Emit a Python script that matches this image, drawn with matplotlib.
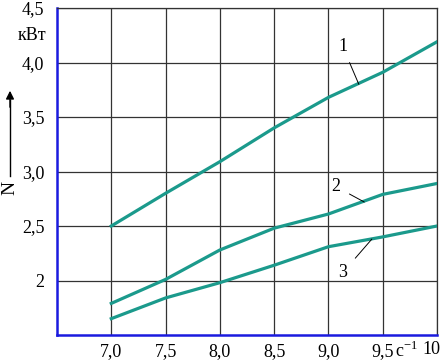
import matplotlib.pyplot as plt

plt.rcParams['font.family'] = ['Liberation Serif', 'DejaVu Serif']

# частота вращения, c^-1
n = [7.0, 7.5, 8.0, 8.5, 9.0, 9.5, 10.0]
# мощность, кВт
N1 = [2.50, 2.80, 3.09, 3.40, 3.68, 3.91, 4.19]
N2 = [1.79, 2.01, 2.28, 2.48, 2.61, 2.79, 2.89]
N3 = [1.65, 1.84, 1.98, 2.14, 2.31, 2.40, 2.50]

xticks = [7.0, 7.5, 8.0, 8.5, 9.0, 9.5, 10.0]
xlabels = ['7,0', '7,5', '8,0', '8,5', '9,0', '9,5', '']
yticks = [2.0, 2.5, 3.0, 3.5, 4.0, 4.5]
ylabels = ['2', '2,5', '3,0', '3,5', '4,0', '4,5']

teal = '#1b9a8c'
fs = 13

fig = plt.figure(figsize=(4.41, 3.61), dpi=100)
ax = fig.add_axes([57/441, 26/361, 380/441, 327/361])

ax.set_xlim(6.5, 10.0)
ax.set_ylim(1.5, 4.5)

for x in xticks:
    ax.axvline(x, color='#333333', lw=0.9, zorder=1)
for y in yticks:
    ax.axhline(y, color='#333333', lw=0.9, zorder=1)

ax.plot(n, N1, color=teal, lw=2.3, zorder=3)
ax.plot(n, N2, color=teal, lw=2.3, zorder=3)
ax.plot(n, N3, color=teal, lw=2.3, zorder=3)

# подписи кривых
ax.annotate('1', xy=(9.28, 3.80), xytext=(9.13, 4.15), fontsize=fs,
            ha='center', va='center',
            arrowprops=dict(arrowstyle='-', color='black', lw=0.7, shrinkA=4, shrinkB=0))
ax.annotate('2', xy=(9.33, 2.72), xytext=(9.07, 2.86), fontsize=fs,
            ha='center', va='center',
            arrowprops=dict(arrowstyle='-', color='black', lw=0.7, shrinkA=5, shrinkB=0))
ax.annotate('3', xy=(9.40, 2.38), xytext=(9.13, 2.07), fontsize=fs,
            ha='center', va='center',
            arrowprops=dict(arrowstyle='-', color='black', lw=0.7, shrinkA=6, shrinkB=0))

ax.set_xticks(xticks)
ax.set_xticklabels(xlabels, fontsize=fs)
ax.set_yticks(yticks)
ax.set_yticklabels(ylabels, fontsize=fs)
ax.tick_params(length=0, pad=6)
ax.tick_params(axis='y', pad=9)

for s in ['left', 'bottom']:
    ax.spines[s].set_color('#1a1adf')
    ax.spines[s].set_linewidth(1.8)
for s in ['top', 'right']:
    ax.spines[s].set_color('#333333')
    ax.spines[s].set_linewidth(0.9)

# единицы
ax.text(6.40, 4.25, 'кВт', fontsize=fs, ha='right', va='center')
ax.text(9.72, 1.445, 'c$^{\\mathregular{-1}}$', fontsize=fs, ha='center', va='top')
fig.text(440/441, 1 - 341/361, '10', fontsize=fs, ha='right', va='top')

# обозначение оси N со стрелкой
fig.text(10/441, 1 - 188/361, 'N', fontsize=14, rotation=90, ha='center', va='center')
fig.add_artist(plt.Line2D([10/441, 10/441], [1 - 176/361, 1 - 100/361],
                          color='black', lw=1.0))
ax.annotate('', xy=(10/441, 1 - 88/361), xytext=(10/441, 1 - 110/361),
            xycoords='figure fraction', textcoords='figure fraction',
            arrowprops=dict(arrowstyle='-|>', color='black', lw=1.0,
                            mutation_scale=12))

fig.savefig('out.png', dpi=100)
